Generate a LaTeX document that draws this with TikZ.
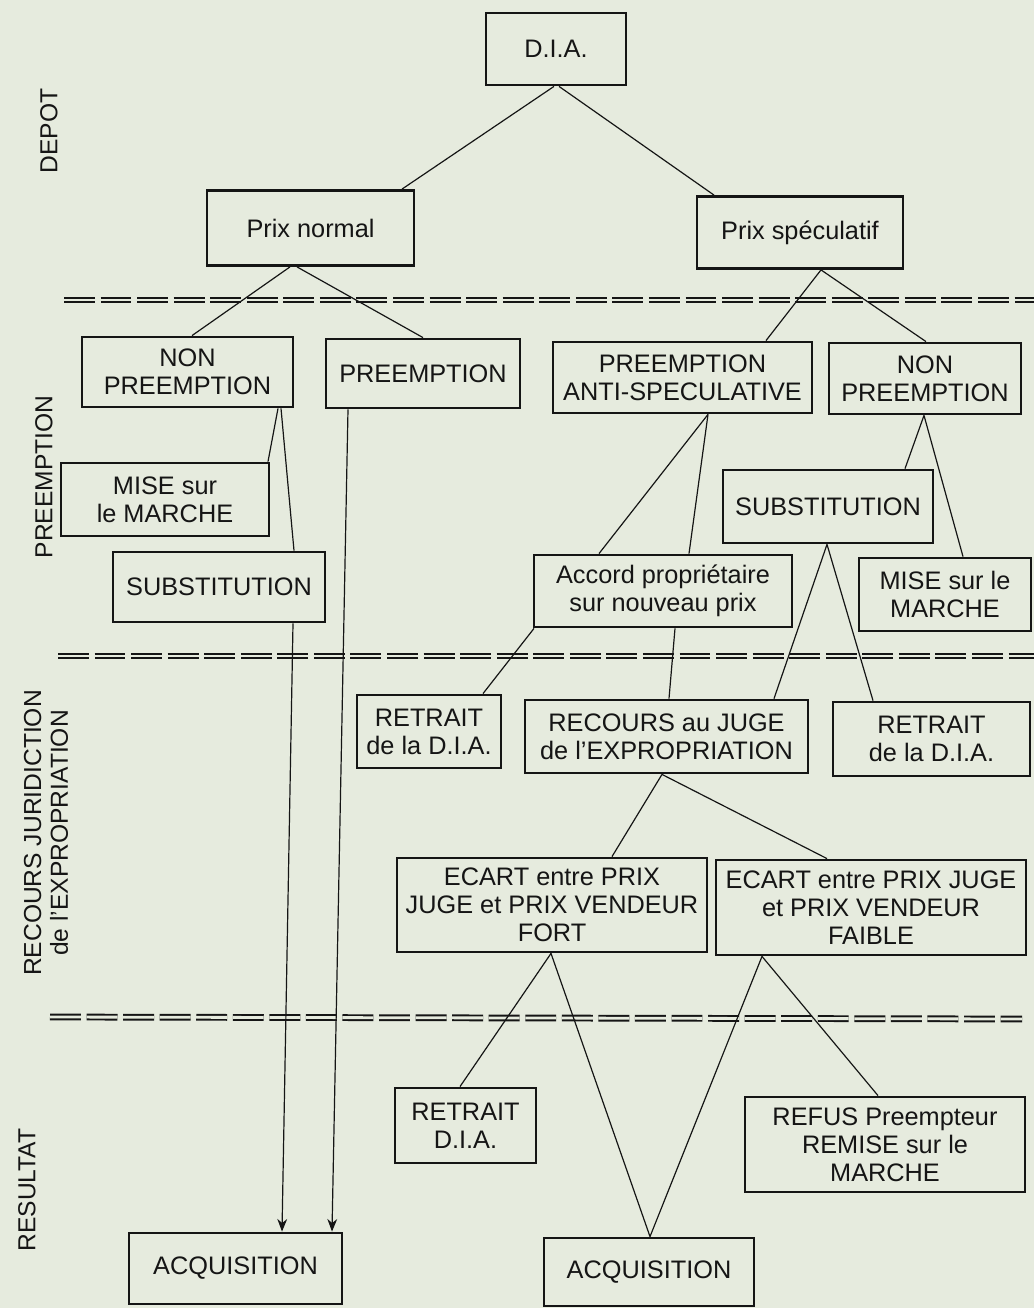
\documentclass[tikz,border=0pt]{standalone}
\usepackage{fontspec}
\setmainfont{Liberation Sans}
\usetikzlibrary{arrows.meta,calc}
\definecolor{paper}{HTML}{E6EBDE}
\definecolor{ink}{HTML}{151515}
\newcommand\mkbox[6]{\node[box, minimum width=#4*0.025cm, minimum height=#5*0.025cm] (#1) at (#2,#3) {#6};}
\newcommand\lnk[5][]{\draw[conn,#1] ($(#2.south)+(#3,0)$) -- ($(#4.north)+(#5,0)$);}
\tikzset{
  box/.style={draw=ink, line width=2pt, align=center, inner sep=0pt, text=ink,
    font=\fontsize{18}{20}\selectfont},
  conn/.style={draw=ink, line width=0.85pt},
  sep/.style={draw=ink, line width=1.4pt, double=paper, double distance=2pt,
    dash pattern=on 22pt off 4pt},
  side/.style={rotate=90, align=center, text=ink, font=\fontsize{17.5}{19}\selectfont},
  tip/.style={-{Stealth[length=9pt,width=7pt]}},
}
\begin{document}
\begin{tikzpicture}[x=0.025cm, y=-0.025cm]
\fill[paper] (0,0) rectangle (1034,1308);
\useasboundingbox (0,0) rectangle (1034,1308);

% separators
\draw[sep] (64,300) -- (1034,300);
\draw[sep] (58,656) -- (1034,656);
\draw[sep] (50,1017) -- (1022,1019);

% side labels
\node[side] (lbdepot) at (49,131) {DEPOT};
\node[side] (lbpre) at (44,477) {PREEMPTION};
\node[side] (lbrec) at (46,833) {RECOURS JURIDICTION\\de l'EXPROPRIATION};
\node[side] (lbres) at (27,1190) {RESULTAT};

% boxes
\mkbox{dia}{556}{49}{140}{72}{D.I.A.}
\mkbox{pn}{310.5}{228}{207}{75}{Prix normal}
\mkbox{ps}{800}{232.5}{206}{72}{Prix spéculatif}
\mkbox{npa}{187.5}{372}{211}{70}{NON\\PREEMPTION}
\mkbox{pre}{423}{373.5}{194}{69}{PREEMPTION}
\mkbox{pas}{682.5}{377.5}{259}{71}{PREEMPTION\\ANTI-SPECULATIVE}
\mkbox{npb}{925}{378.5}{192}{71}{NON\\PREEMPTION}
\mkbox{misea}{165}{499.5}{208}{73}{MISE sur\\le MARCHE}
\mkbox{suba}{219}{587}{212}{70}{SUBSTITUTION}
\mkbox{subb}{828}{506.5}{210}{73}{SUBSTITUTION}
\mkbox{acc}{663}{591}{258}{72}{Accord propriétaire\\sur nouveau prix}
\mkbox{miseb}{945}{594.5}{172}{73}{MISE sur le\\MARCHE}
\mkbox{reta}{429}{731.5}{144}{73}{RETRAIT\\de la D.I.A.}
\mkbox{rec}{666.5}{736.5}{283}{73}{RECOURS au JUGE\\de l'EXPROPRIATION}
\mkbox{retb}{931.5}{739}{197}{74}{RETRAIT\\de la D.I.A.}
\mkbox{ecf}{552}{905}{310}{94}{ECART entre PRIX\\JUGE et PRIX VENDEUR\\FORT}
\mkbox{ecw}{871}{907.5}{310}{95}{ECART entre PRIX JUGE\\et PRIX VENDEUR\\FAIBLE}
\mkbox{retc}{465.5}{1125.5}{141}{75}{RETRAIT\\D.I.A.}
\mkbox{ref}{885}{1144.5}{280}{95}{REFUS Preempteur\\REMISE sur le\\MARCHE}
\mkbox{acqa}{235.5}{1268.5}{213}{71}{ACQUISITION}
\mkbox{acqb}{649}{1272}{210}{68}{ACQUISITION}

% connectors
\lnk{dia}{-2}{pn}{91.5}
\lnk{dia}{3}{ps}{-86}
\lnk{pn}{-20.5}{npa}{4.5}
\lnk{pn}{-13.5}{pre}{0}
\lnk{ps}{21}{pas}{83.5}
\lnk{ps}{21}{npb}{1}
\lnk{npa}{90.5}{misea}{103}
\lnk{npa}{93.5}{suba}{75}
\lnk[tip]{suba}{74}{acqa}{46.5}
\lnk[tip]{pre}{-75}{acqa}{96.5}
\lnk{pas}{25.5}{acc}{-64}
\lnk{pas}{25.5}{acc}{26}
\lnk{npb}{-1}{subb}{77}
\lnk{npb}{-1}{miseb}{18}
\lnk{subb}{-1}{rec}{107.5}
\lnk{subb}{-1}{retb}{-58.5}
\lnk{acc}{-129}{reta}{54}
\lnk{acc}{12}{rec}{2.5}
\lnk{rec}{-4.5}{ecf}{60}
\lnk{rec}{-4.5}{ecw}{-44}
\lnk{ecf}{-1}{retc}{-5.5}
\lnk{ecf}{-1}{acqb}{1}
\lnk{ecw}{-109}{acqb}{1}
\lnk{ecw}{-109}{ref}{-7}
\end{tikzpicture}
\end{document}
